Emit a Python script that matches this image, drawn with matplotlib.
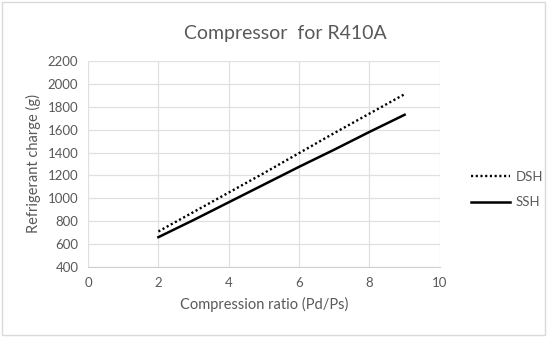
import matplotlib
matplotlib.use("Agg")
import matplotlib.pyplot as plt
from matplotlib.patches import Rectangle

plt.rcParams['font.family'] = ['Lato', 'DejaVu Sans']

ratio = [2, 3, 4, 5, 6, 7, 8, 9]
dsh = [710, 880, 1050, 1220, 1395, 1570, 1740, 1910]
ssh = [660, 810, 965, 1120, 1275, 1425, 1580, 1730]
xticks = [0, 2, 4, 6, 8, 10]
yticks = [400, 600, 800, 1000, 1200, 1400, 1600, 1800, 2000, 2200]

gray = '#595959'
fig = plt.figure(figsize=(5.47, 3.37), dpi=100)
fig.patches.append(Rectangle((0.004, 0.006), 0.992, 0.988, transform=fig.transFigure,
                             fill=False, edgecolor='#d9d9d9', linewidth=1))
ax = fig.add_axes([0.161, 0.208, 0.643, 0.611])
ax.plot(ratio, dsh, color='black', linestyle=(0, (0.9, 1.1)), linewidth=1.7, label='DSH')
ax.plot(ratio, ssh, color='black', linestyle='-', linewidth=1.8, label='SSH')
ax.set_xlim(0, 10)
ax.set_ylim(400, 2200)
ax.set_xticks(xticks)
ax.set_yticks(yticks)
ax.grid(True, color='#e0e0e0', linewidth=0.9)
ax.set_axisbelow(True)
for s in ['top', 'right', 'left']:
    ax.spines[s].set_visible(False)
ax.spines['bottom'].set_color('#d0d0d0')
ax.tick_params(length=0, colors=gray, labelsize=9.5, pad=7)
ax.set_xlabel('Compression ratio (Pd/Ps)', color=gray, fontsize=10.5, labelpad=6)
ax.set_ylabel('Refrigerant charge (g)', color=gray, fontsize=10.5, labelpad=5)
fig.text(0.521, 0.9, 'Compressor  for R410A', ha='center', va='center', color=gray, fontsize=14)
leg = ax.legend(loc='center left', bbox_to_anchor=(1.088, 0.375), frameon=False,
                fontsize=9.5, handlelength=3.0, labelspacing=1.0, handletextpad=0.4,
                borderpad=0, borderaxespad=0)
for t in leg.get_texts():
    t.set_color(gray)
fig.savefig('out.png', dpi=100)
